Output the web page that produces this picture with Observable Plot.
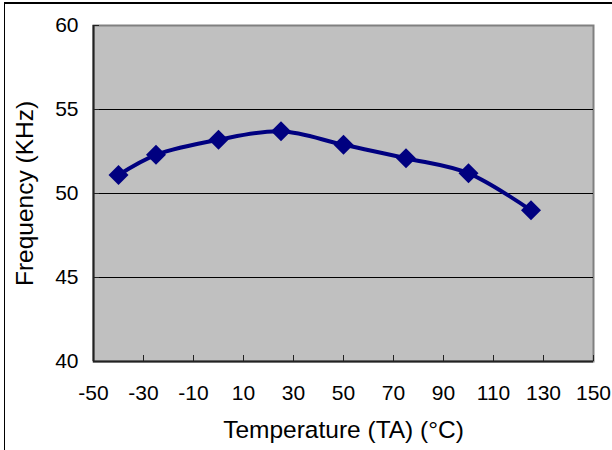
<!DOCTYPE html>
<html>
<head>
<meta charset="utf-8">
<script src="https://cdn.jsdelivr.net/npm/d3@7"></script>
<script src="https://cdn.jsdelivr.net/npm/@observablehq/plot@0.6"></script>
<style>
  html, body { margin: 0; padding: 0; background: #fff; }
  #wrap { position: relative; width: 612px; height: 450px; overflow: hidden; }
  #border { position: absolute; left: 4px; top: 2px; width: 800px; height: 800px;
            border-top: 2px solid #000; border-left: 1.5px solid #000; pointer-events: none; }
</style>
</head>
<body>
<div id="wrap"><div id="border"></div></div>
<script>
const temperatures = [-40, -25, 0, 25, 50, 75, 100, 125];
const frequencies = [51.1, 52.3, 53.2, 53.7, 52.9, 52.1, 51.2, 49.0];
const xTicks = [-50, -30, -10, 10, 30, 50, 70, 90, 110, 130, 150];
const yTicks = [40, 45, 50, 55, 60];
const gridValues = [45, 50, 55];
const xTitle = "Temperature (TA) (°C)";
const yTitle = "Frequency (KHz)";

const data = temperatures.map((t, i) => ({t, f: frequencies[i]}));
const font = "'Liberation Sans', Arial, sans-serif";

const chart = Plot.plot({
  width: 612,
  height: 450,
  marginLeft: 93,
  marginRight: 19,
  marginTop: 25,
  marginBottom: 89,
  style: {fontFamily: font, fontSize: "21px", color: "#000", background: "transparent"},
  x: {domain: [-50, 150], label: null},
  y: {domain: [40, 60], label: null},
  marks: [
    Plot.frame({fill: "#C0C0C0", stroke: "#808080", strokeWidth: 2}),
    Plot.ruleY(gridValues, {y: d => d, stroke: "#000", strokeWidth: 1}),
    Plot.ruleY([yTicks[0]], {y: d => d, stroke: "#222", strokeWidth: 2}),
    Plot.ruleX([xTicks[0]], {x: d => d, stroke: "#222", strokeWidth: 2}),
    Plot.axisX({ticks: xTicks, tickSize: 0, tickPadding: 24, tickFormat: d => String(d), fontSize: 21}),
    Plot.axisY({ticks: yTicks, tickSize: 0, tickPadding: 15, tickFormat: d => String(d), fontSize: 21}),
    Plot.ruleX(xTicks, {x: d => d, y1: yTicks[yTicks.length - 1], y2: yTicks[0], insetTop: 330, stroke: "#222", strokeWidth: 1}),
    Plot.ruleY(yTicks, {y: d => d, x1: xTicks[0], x2: xTicks[xTicks.length - 1], insetRight: 494, stroke: "#222", strokeWidth: 1}),
    Plot.line(data, {x: "t", y: "f", curve: "catmull-rom", stroke: "#000080", strokeWidth: 4}),
    Plot.dot(data, {x: "t", y: "f", symbol: "diamond2", r: 9, fill: "#000080", stroke: "none"}),
    Plot.text([xTitle], {frameAnchor: "bottom", text: d => d, dy: 76, fontSize: 24.5, fill: "#000"}),
    Plot.text([yTitle], {frameAnchor: "left", text: d => d, textAnchor: "middle", dx: -68, rotate: -90, fontSize: 24.5, fill: "#000"})
  ]
});
document.getElementById("wrap").appendChild(chart);
</script>
</body>
</html>
